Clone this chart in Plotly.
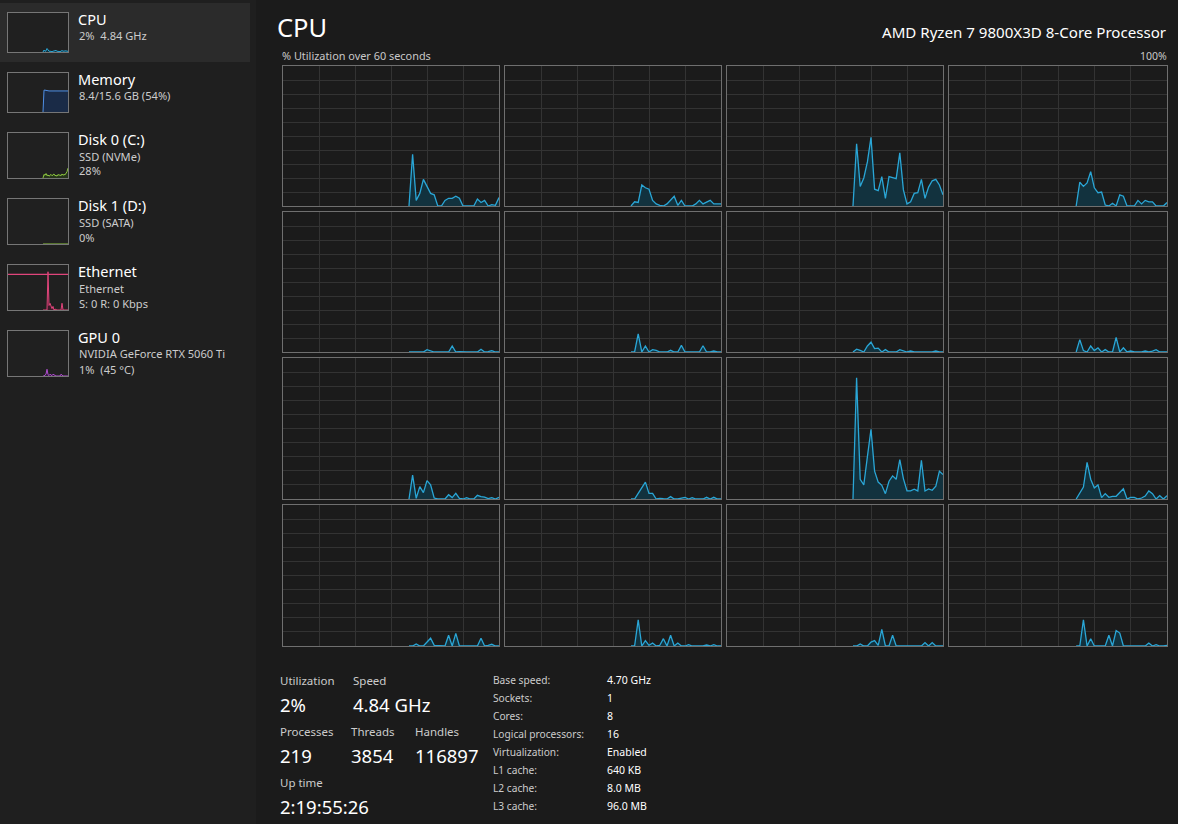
import plotly.graph_objects as go

W, H = 1178, 824

# ---------------- data ----------------
SECONDS = list(range(35, 61))  # samples inside the 60-second window

CORE_00 = [0, 37, 4, 9, 19, 14, 9, 8, 0, 0, 4, 5.5, 5.5, 7, 5.5, 0, 0, 0, 0, 5, 2.5, 4, 0, 1, 0.5, 6]
CORE_01 = [0, 3, 2.5, 15, 13, 12, 4, 1.5, 0.5, 0, 1.5, 4, 7, 0.5, 4, 0, 0, 0, 1.5, 4, 1.5, 3, 4, 1.5, 1.5, 1.5]
CORE_02 = [0, 44.5, 14, 20, 31.5, 49, 12, 11, 21, 5.5, 21, 20.5, 19.5, 38, 11.5, 1.5, 3, 9, 9.5, 19, 5.5, 13.5, 18, 19, 15, 8]
CORE_03 = [0, 17, 14, 16.5, 24.5, 13, 9.5, 10, 0.7, 0, 2, 0, 8, 7, 0, 0, 0, 4, 1.5, 4, 3, 3, 0, 0, 0, 2.5]
CORE_04 = [0, 0, 0, 0, 0, 1.7, 0.7, 0, 0, 0, 0.3, 0, 4.3, 0, 0.3, 0, 0, 0, 0, 0, 1.9, 0, 0.3, 1, 0, 0]
CORE_05 = [0, 0, 13, 0, 4.3, 0, 1.7, 1.2, 0, 0, 0, 1.2, 0, 0, 4.7, 0, 0, 0, 0, 0, 4.5, 0, 0, 0.7, 0, 0]
CORE_06 = [0, 2, 1.2, 0, 4.3, 7, 2.4, 2.8, 0, 1.7, 0, 0, 0, 1.7, 0.7, 0, 0.7, 0, 0, 0, 0, 0, 0, 0.7, 0, 0]
CORE_07 = [0, 8.8, 1, 0, 4.3, 1, 3, 0, 1.7, 0, 0, 10.4, 0, 3, 0, 0.7, 0, 0, 0, 0.7, 0, 0.7, 1.7, 0, 0, 0]
CORE_08 = [0, 17, 0.5, 8.8, 4.5, 13, 10, 0.7, 0, 0, 0, 3, 1, 4, 0.5, 0, 1, 0, 0, 2.6, 1.7, 1.4, 0.3, 1, 0, 1.2]
CORE_09 = [0, 0, 4, 8, 12, 4, 4, 0, 0.5, 0.2, 0, 1.7, 0, 0, 0.7, 1.2, 0, 1, 0, 0, 0, 1.2, 0, 1.2, 0, 0]
CORE_10 = [0, 86, 14, 10, 30, 49.5, 19.7, 12, 9.7, 3.8, 12.6, 16.4, 14, 28, 14.5, 5.7, 5.7, 6.9, 5.7, 27.5, 5.7, 7.1, 6.2, 9, 19.7, 17.3]
CORE_11 = [0, 4, 8.5, 26, 14, 7.8, 10, 1, 3.8, 1.2, 1.9, 1.9, 4.5, 7.3, 0, 1.2, 1.2, 0, 0.7, 2.1, 5.7, 3.8, 0, 2.4, 0, 2.4]
CORE_12 = [0, 0, 1.4, 0, 0, 2.8, 5.5, 0.5, 0.5, 0, 0, 7.6, 0, 9, 0, 0, 0, 0, 0, 0, 5.5, 0, 0.5, 1.2, 0, 0]
CORE_13 = [0, 0, 18.5, 0, 3.8, 0.5, 2.1, 0, 0.5, 5.2, 0, 7.6, 0, 2.1, 0, 0, 1, 0, 0, 0, 0, 0.7, 0, 1, 0, 0]
CORE_14 = [0, 0, 1.4, 0, 0, 2.8, 3.8, 0.5, 11.8, 0, 0, 7.6, 0, 0, 0, 0, 0, 0, 0, 0, 2.4, 0, 2.4, 0, 0, 0]
CORE_15 = [0, 0, 18.5, 0, 5.2, 0, 0, 0, 0, 7.6, 0, 11, 9.2, 0, 0, 0, 0, 0, 0, 0, 2.1, 0, 1, 0, 0, 0.5]

CORES = [CORE_00, CORE_01, CORE_02, CORE_03, CORE_04, CORE_05, CORE_06, CORE_07,
         CORE_08, CORE_09, CORE_10, CORE_11, CORE_12, CORE_13, CORE_14, CORE_15]

THUMB_CPU = [0, 5, 2, 3, 9, 4, 2, 2, 1, 1, 2, 3, 2, 4, 2, 1, 1, 1, 2, 4, 2, 3, 2, 3, 2, 2]
THUMB_MEM = [0, 56, 56, 55, 54, 54, 54, 54, 54, 54, 54, 54, 54, 54, 54, 54, 54, 54, 54, 54, 54, 54, 54, 54, 54, 54]
THUMB_DISK0 = [0, 8, 6, 10, 5, 7, 4, 6, 8, 5, 7, 9, 5, 6, 4, 8, 6, 7, 5, 9, 6, 8, 7, 10, 14, 22]
THUMB_DISK1 = [0] * 26
THUMB_ETH = [0, 0, 0, 0, 0, 85, 10, 15, 6, 3, 8, 0, 2, 0, 0, 0, 0, 0, 0, 15, 0, 0, 0, 0, 0, 0]
THUMB_ETH_SCALE_X = [0, 60]
THUMB_ETH_SCALE = [79, 79]
THUMB_GPU = [0, 0, 2, 4, 15, 3, 1, 4, 2, 1, 4, 2, 1, 0, 0, 0, 0, 0, 4, 1, 0, 0, 0, 0, 0, 0]

NAV_TITLES = ["CPU", "Memory", "Disk 0 (C:)", "Disk 1 (D:)", "Ethernet", "GPU 0"]
NAV_DETAILS = [["2%  4.84 GHz"], ["8.4/15.6 GB (54%)"], ["SSD (NVMe)", "28%"],
               ["SSD (SATA)", "0%"], ["Ethernet", "S: 0 R: 0 Kbps"],
               ["NVIDIA GeForce RTX 5060 Ti", "1%  (45 °C)"]]

PROCESSOR_NAME = "AMD Ryzen 7 9800X3D 8-Core Processor"

STAT_LABELS = ["Utilization", "Speed", "Processes", "Threads", "Handles", "Up time"]
STAT_VALUES = ["2%", "4.84 GHz", "219", "3854", "116897", "2:19:55:26"]

SPEC_LABELS = ["Base speed:", "Sockets:", "Cores:", "Logical processors:", "Virtualization:",
               "L1 cache:", "L2 cache:", "L3 cache:"]
SPEC_VALUES = ["4.70 GHz", "1", "8", "16", "Enabled", "640 KB", "8.0 MB", "96.0 MB"]

# ---------------- style / layout ----------------
FONT = "Noto Sans"
BG_MAIN = "#1b1b1b"
BG_NAV = "#1f1f1f"
CPU_LINE = "#2aa6d6"
CPU_FILL = "#12323e"
GRID = "#333333"
BORDER = "#6f6f6f"


def px(x):
    return x / W


def py(y):
    return 1 - y / H


fig = go.Figure()
layout = {}
annotations = []
shapes = []
axis_n = [0]


def new_axes(x0, x1, y0, y1, grid, bg=None):
    axis_n[0] += 1
    n = axis_n[0]
    sx = "" if n == 1 else str(n)
    xa = dict(domain=[px(x0), px(x1)], range=[0, 60], showticklabels=False, ticks="",
              showgrid=grid, gridcolor=GRID, gridwidth=1, dtick=10, tick0=0,
              zeroline=False, showline=True, mirror=True, linecolor=BORDER, linewidth=1,
              anchor="y" + sx, fixedrange=True)
    ya = dict(domain=[py(y1), py(y0)], range=[0, 100], showticklabels=False, ticks="",
              showgrid=grid, gridcolor=GRID, gridwidth=1, dtick=10, tick0=0,
              zeroline=False, showline=True, mirror=True, linecolor=BORDER, linewidth=1,
              anchor="x" + sx, fixedrange=True)
    layout["xaxis" + sx] = xa
    layout["yaxis" + sx] = ya
    if bg:
        shapes.append(dict(type="rect", xref="paper", yref="paper", x0=px(x0), x1=px(x1),
                           y0=py(y1), y1=py(y0), fillcolor=bg, line=dict(width=0), layer="below"))
    return "x" + sx, "y" + sx


# nav pane background + selection highlight
shapes.append(dict(type="rect", xref="paper", yref="paper", x0=0, x1=px(256), y0=0, y1=1,
                   fillcolor=BG_NAV, line=dict(width=0), layer="below"))
shapes.append(dict(type="rect", xref="paper", yref="paper", x0=0, x1=px(250), y0=py(62), y1=py(3),
                   fillcolor="#2b2b2b", line=dict(width=0), layer="below"))

# core panels
COLS_PX = [(283, 499), (505, 721), (727, 943), (949, 1167)]
ROWS_PX = [(66, 206), (212, 352), (358, 499), (505, 646)]
for i, vals in enumerate(CORES):
    r, c = divmod(i, 4)
    xr, yr = new_axes(COLS_PX[c][0], COLS_PX[c][1], ROWS_PX[r][0], ROWS_PX[r][1], True)
    fig.add_trace(go.Scatter(x=SECONDS, y=vals, xaxis=xr, yaxis=yr, mode="lines",
                             line=dict(color=CPU_LINE, width=1.3), fill="tozeroy",
                             fillcolor=CPU_FILL, hoverinfo="skip", showlegend=False))

# nav thumbnails
THUMB_BOXES = [(13, 52), (73, 112), (133, 178), (199, 244), (265, 310), (331, 376)]
THUMB_SERIES = [THUMB_CPU, THUMB_MEM, THUMB_DISK0, THUMB_DISK1, THUMB_ETH, THUMB_GPU]
THUMB_LINE = ["#2aa6d6", "#4f8fe6", "#8cc63f", "#8cc63f", "#e0457b", "#b04fd0"]
THUMB_FILL = ["#12323e", "#1a2b47", "#26341a", "#26341a", "#3d1a28", "#321a3d"]
for k, (t0, t1) in enumerate(THUMB_BOXES):
    xr, yr = new_axes(8, 68, t0, t1, False, bg="#202020")
    layout["xaxis" + xr[1:]]["linecolor"] = "#767676"
    layout["yaxis" + yr[1:]]["linecolor"] = "#767676"
    if k == 4:
        fig.add_trace(go.Scatter(x=THUMB_ETH_SCALE_X, y=THUMB_ETH_SCALE, xaxis=xr, yaxis=yr,
                                 mode="lines", line=dict(color=THUMB_LINE[k], width=1.2),
                                 hoverinfo="skip", showlegend=False))
    fig.add_trace(go.Scatter(x=SECONDS, y=THUMB_SERIES[k], xaxis=xr, yaxis=yr, mode="lines",
                             line=dict(color=THUMB_LINE[k], width=1), fill="tozeroy",
                             fillcolor=THUMB_FILL[k], hoverinfo="skip", showlegend=False))


def text(x, y, s, size, color, anchor="left"):
    # annotation boxes add ~2px padding; compensate so the glyphs start at x
    dx = -2 if anchor == "left" else 2
    annotations.append(dict(x=px(x + dx), y=py(y), xref="paper", yref="paper", text=s,
                            showarrow=False, xanchor=anchor, yanchor="middle",
                            font=dict(family=FONT, size=size, color=color)))


# nav texts
NAV_TITLE_Y = [19, 79, 139, 205, 271, 337]
for k, title in enumerate(NAV_TITLES):
    text(78, NAV_TITLE_Y[k], title, 14.5, "#ffffff")
    for j, line in enumerate(NAV_DETAILS[k]):
        text(79, NAV_TITLE_Y[k] + 17 + 15 * j, line, 11.1, "#cccccc")

# header
text(277, 27, "CPU", 25.5, "#ffffff")
text(1166, 32, PROCESSOR_NAME, 15.1, "#ffffff", anchor="right")
text(282, 56, "% Utilization over 60 seconds", 10.9, "#c8c8c8")
text(1167, 56, "100%", 10.5, "#c8c8c8", anchor="right")

# stats
STAT_POS = [(280, 680), (353, 680), (280, 731), (351, 731), (415, 731), (280, 782)]
for k, lab in enumerate(STAT_LABELS):
    x, y = STAT_POS[k]
    text(x, y, lab, 11.5, "#cccccc")
    text(x, y + 24, STAT_VALUES[k], 18.5, "#ffffff")

for k, lab in enumerate(SPEC_LABELS):
    y = 680 + 18 * k
    text(493, y, lab, 10.2, "#cccccc")
    text(607, y, SPEC_VALUES[k], 10.5, "#ffffff")

layout.update(dict(width=W, height=H, margin=dict(l=0, r=0, t=0, b=0),
                   paper_bgcolor=BG_MAIN, plot_bgcolor=BG_MAIN, showlegend=False,
                   annotations=annotations, shapes=shapes, font=dict(family=FONT)))
fig.update_layout(**layout)

fig.write_html("out.html", config={"displayModeBar": False, "staticPlot": True},
               post_script="document.body.style.margin='0';document.body.style.overflow='hidden';")
